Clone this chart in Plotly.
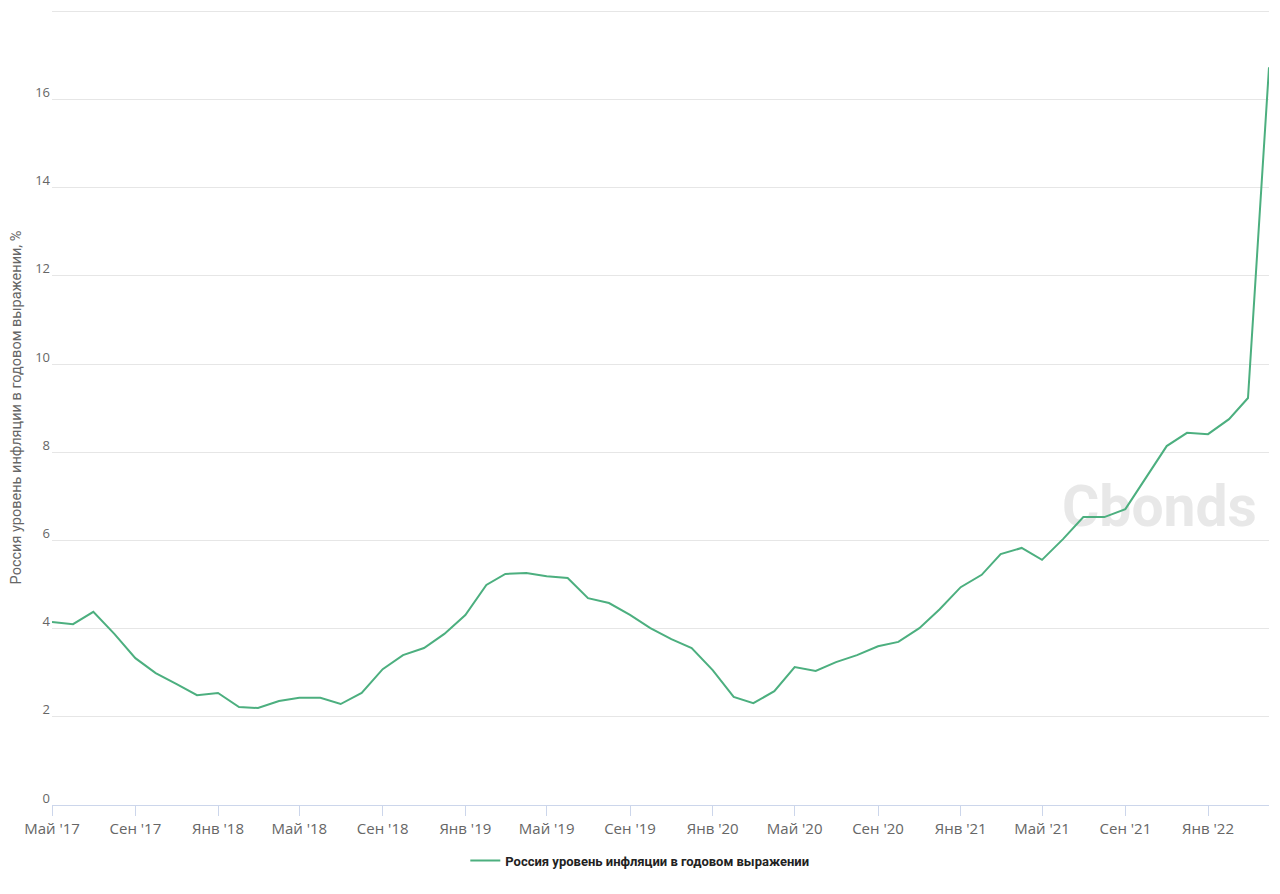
import pandas as pd
import plotly.graph_objects as go

dates = pd.date_range("2017-05-01", "2022-04-01", freq="MS")
values = [4.15, 4.10, 4.38, 3.88, 3.33, 2.99, 2.74, 2.49, 2.54, 2.22,
          2.20, 2.36, 2.43, 2.43, 2.29, 2.54, 3.08, 3.40, 3.56, 3.88,
          4.31, 4.99, 5.24, 5.26, 5.19, 5.15, 4.69, 4.58, 4.31, 4.01,
          3.76, 3.56, 3.06, 2.45, 2.31, 2.58, 3.13, 3.04, 3.24, 3.40,
          3.60, 3.70, 4.01, 4.44, 4.94, 5.22, 5.69, 5.83, 5.56, 6.03,
          6.53, 6.53, 6.71, 7.41, 8.14, 8.44, 8.41, 8.75, 9.23, 16.73]
series_name = "Россия уровень инфляции в годовом выражении"
y_title = "Россия уровень инфляции в годовом выражении, %"
tick_dates = pd.date_range("2017-05-01", "2022-01-01", freq="4MS")
month_ru = {1: "Янв", 5: "Май", 9: "Сен"}
tick_labels = [f"{month_ru[d.month]} '{d.strftime('%y')}" for d in tick_dates]
y_ticks = [0, 2, 4, 6, 8, 10, 12, 14, 16, 18]
y_ticklabels = ["0", "2", "4", "6", "8", "10", "12", "14", "16", ""]

fig = go.Figure()
fig.add_trace(go.Scatter(x=dates, y=values, mode="lines", name=series_name,
                         line=dict(color="#4caf7f", width=2)))

fig.add_shape(type="rect", xref="paper", yref="paper", x0=0.82, x1=1.0, y0=0.33, y1=0.43,
              layer="below", line=dict(width=0), fillcolor="rgba(0,0,0,0)",
              label=dict(text="<b>Cbonds</b>", font=dict(family="Roboto", size=57, color="#e8e8e8"),
                         textposition="middle center"))

fig.update_layout(
    width=1280, height=894,
    margin=dict(l=52, r=11, t=10, b=89, autoexpand=False),
    paper_bgcolor="white", plot_bgcolor="white",
    showlegend=True,
    legend=dict(orientation="h", x=0.483, xanchor="center", y=-0.051, yanchor="top",
                font=dict(family="Roboto", size=13, color="#222222", weight="bold")),
    xaxis=dict(range=[dates[0], dates[-1]], tickvals=tick_dates, ticktext=tick_labels,
               showgrid=False, showline=True, linecolor="#ccd6eb", linewidth=1,
               ticks="outside", ticklen=10, tickcolor="#ccd6eb",
               tickfont=dict(family="Open Sans", size=15, color="#666666"), zeroline=False),
    yaxis=dict(range=[0, 18.03], tickvals=y_ticks, ticktext=y_ticklabels,
               showgrid=True, gridcolor="#e6e6e6", gridwidth=1, zeroline=False,
               ticks="", ticklabelshift=-7, ticklabelstandoff=1,
               tickfont=dict(family="Open Sans", size=13, color="#666666"),
               title=dict(text=y_title, font=dict(family="Roboto", size=14.5, color="#666666"),
                          standoff=10)),
)

fig.write_html("out.html", post_script="document.body.style.margin='0';",
               config={"displayModeBar": False})
